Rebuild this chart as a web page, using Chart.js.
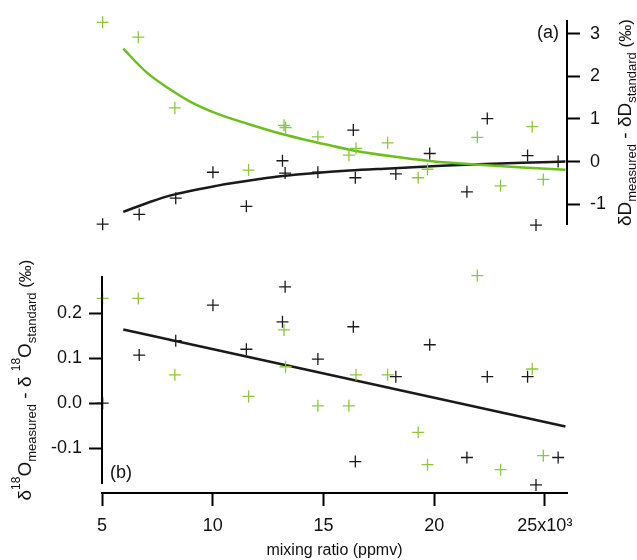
<!DOCTYPE html>
<html>
<head>
<meta charset="utf-8">
<script src="https://cdn.jsdelivr.net/npm/chart.js@4"></script>
<style>
  body { margin: 0; background: #fff; }
  #wrap { position: relative; width: 637px; height: 560px; }
  canvas { position: absolute; left: 0; }
</style>
</head>
<body>
<div id="wrap">
  <canvas id="topChart" width="637" height="245" style="top:0"></canvas>
  <canvas id="bottomChart" width="637" height="310" style="top:250px"></canvas>
</div>
<script>
// mixing ratio (x10^3 ppmv) of each measurement
const blackX = [5.03, 6.68, 8.33, 10.01, 11.52, 13.15, 13.27, 14.75, 16.35, 16.44, 18.27, 19.8, 21.48, 22.4, 24.22, 24.6, 25.6];
const blackDD = [-1.47, -1.24, -0.86, -0.25, -1.05, 0.02, -0.27, -0.25, 0.74, -0.38, -0.29, 0.19, -0.71, 1.01, 0.14, -1.49, 0.0];
const blackO18 = [0.0, 0.107, 0.139, 0.218, 0.12, 0.181, 0.259, 0.098, 0.17, -0.13, 0.059, 0.13, -0.121, 0.059, 0.059, -0.182, -0.121];

const greenX = [5.03, 6.64, 8.29, 11.62, 13.22, 13.29, 14.75, 16.15, 16.47, 17.9, 19.28, 19.7, 21.95, 23.0, 24.43, 24.93];
const greenDD = [3.27, 2.92, 1.26, -0.2, 0.85, 0.8, 0.58, 0.15, 0.31, 0.44, -0.38, -0.18, 0.57, -0.57, 0.82, -0.42];
const greenO18 = [0.233, 0.233, 0.063, 0.015, 0.163, 0.081, -0.006, -0.006, 0.063, 0.063, -0.065, -0.137, 0.284, -0.148, 0.076, -0.117];

// fitted curves
const greenFitX = [5.96, 7.0, 8.0, 9.0, 10.16, 12.12, 13.17, 14.7, 16.17, 18.0, 19.9, 21.87, 24.0, 25.93];
const greenFitDD = [2.65, 2.1, 1.72, 1.4, 1.13, 0.8, 0.64, 0.45, 0.28, 0.13, 0.01, -0.07, -0.14, -0.19];
const blackFitX = [5.96, 7.16, 8.06, 10.16, 12.12, 13.17, 16.17, 18.0, 19.9, 22.0, 24.0, 25.93];
const blackFitDD = [-1.18, -0.95, -0.8, -0.57, -0.41, -0.34, -0.21, -0.16, -0.11, -0.06, -0.03, 0.0];
const o18FitX = [5.96, 25.93];
const o18FitY = [0.164, -0.052];

const xTicks = [5, 10, 15, 20, 25];
const xTickLabels = ['5', '10', '15', '20', '25x10\u00b3'];
const ddTicks = [-1, 0, 1, 2, 3];
const o18Ticks = [-0.1, 0.0, 0.1, 0.2];
const o18TickLabels = ['-0.1', '0.0', '0.1', '0.2'];

const FONT = '"Liberation Sans", Arial, sans-serif';
const greenPt = '#8cc63f';
const greenLine = '#6cbf1e';
const blackPt = '#1a1a1a';

const pts = (xs, ys) => xs.map((x, i) => ({ x: x, y: ys[i] }));

function crosses(xs, ys, color) {
    return { data: pts(xs, ys), pointStyle: 'cross', pointRadius: 6, pointHoverRadius: 6,
        borderColor: color, pointBorderWidth: 1.3, showLine: false, clip: false };
}
function curve(xs, ys, color) {
    return { data: pts(xs, ys), showLine: true, pointRadius: 0, borderColor: color,
        borderWidth: 2.5, cubicInterpolationMode: 'monotone', clip: false };
}

// draws rotated text with sub/superscripts
function richText(ctx, parts, cx, cy) {
    ctx.save();
    ctx.translate(cx, cy);
    ctx.rotate(-Math.PI / 2);
    let w = 0;
    parts.forEach(p => { ctx.font = p[1] + 'px ' + FONT; w += ctx.measureText(p[0]).width; });
    let x = -w / 2;
    ctx.fillStyle = '#111';
    ctx.textBaseline = 'middle';
    parts.forEach(p => {
        ctx.font = p[1] + 'px ' + FONT;
        ctx.fillText(p[0], x, p[2]);
        x += ctx.measureText(p[0]).width;
    });
    ctx.restore();
}

const topDecor = {
    id: 'topDecor',
    afterDraw(chart) {
        const ctx = chart.ctx, a = chart.chartArea;
        richText(ctx, [['\u03b4D', 19, 0], ['measured', 13, 6], [' - \u03b4D', 19, 0], ['standard', 13, 6], [' (\u2030)', 17, 0]],
            626, (a.top + a.bottom) / 2);
        ctx.save();
        ctx.font = '18px ' + FONT;
        ctx.fillStyle = '#111';
        ctx.textAlign = 'right';
        ctx.textBaseline = 'middle';
        ctx.fillText('(a)', a.right - 8, a.top + 12);
        ctx.restore();
    }
};

const bottomDecor = {
    id: 'bottomDecor',
    afterDraw(chart) {
        const ctx = chart.ctx, a = chart.chartArea, y = chart.scales.y;
        ctx.save();
        ctx.strokeStyle = '#000';
        ctx.lineWidth = 2;
        ctx.beginPath();
        ctx.moveTo(a.left, a.top);
        ctx.lineTo(a.left, y.getPixelForValue(-0.18));
        ctx.stroke();
        ctx.font = '18px ' + FONT;
        ctx.fillStyle = '#111';
        ctx.textBaseline = 'middle';
        ctx.fillText('(b)', a.left + 8, y.getPixelForValue(-0.155));
        ctx.restore();
        richText(ctx, [['\u03b4', 19, 0], ['18', 12, -9], ['O', 19, 0], ['measured', 13, 6], [' - \u03b4 ', 19, 0], ['18', 12, -9],
            ['O', 19, 0], ['standard', 13, 6], [' (\u2030)', 17, 0]], 26, (a.top + y.getPixelForValue(-0.18)) / 2);
    }
};

const axisStyle = {
    border: { display: true, color: '#000', width: 2 },
    grid: { drawOnChartArea: false, drawTicks: true, tickLength: 13, tickWidth: 2, tickColor: '#000' },
};

new Chart(document.querySelector('#topChart'), {
    type: 'scatter',
    data: { datasets: [
        crosses(greenX, greenDD, greenPt),
        crosses(blackX, blackDD, blackPt),
        curve(greenFitX, greenFitDD, greenLine),
        curve(blackFitX, blackFitDD, blackPt),
    ] },
    options: {
        responsive: false, animation: false,
        layout: { padding: { left: 102, right: 0, top: 21, bottom: 16 } },
        plugins: { legend: { display: false }, tooltip: { enabled: false } },
        scales: {
            x: { type: 'linear', min: 5, max: 26, display: false },
            y: Object.assign({}, axisStyle, {
                position: 'right', min: -1.47, max: 3.3,
                afterBuildTicks: s => { s.ticks = ddTicks.map(v => ({ value: v })); },
                afterFit: s => { s.width = 70; },
                ticks: { color: '#111', padding: 10, font: { family: FONT, size: 18 } },
            }),
        },
    },
    plugins: [topDecor],
});

new Chart(document.querySelector('#bottomChart'), {
    type: 'scatter',
    data: { datasets: [
        crosses(greenX, greenO18, greenPt),
        crosses(blackX, blackO18, blackPt),
        curve(o18FitX, o18FitY, blackPt),
    ] },
    options: {
        responsive: false, animation: false,
        layout: { padding: { left: 0, right: 70, top: 26, bottom: 0 } },
        plugins: { legend: { display: false }, tooltip: { enabled: false } },
        scales: {
            x: Object.assign({}, axisStyle, {
                type: 'linear', min: 5, max: 26,
                afterBuildTicks: s => { s.ticks = xTicks.map(v => ({ value: v })); },
                afterFit: s => { s.height = 67; },
                ticks: { color: '#111', padding: 9, maxRotation: 0,
                    font: { family: FONT, size: 18 },
                    callback: v => xTickLabels[xTicks.indexOf(v)] },
                title: { display: true, text: 'mixing ratio (ppmv)', color: '#111',
                    padding: { top: 0, bottom: 0 }, font: { family: FONT, size: 16 } },
            }),
            y: Object.assign({}, axisStyle, {
                border: { display: false },
                min: -0.2, max: 0.283,
                afterBuildTicks: s => { s.ticks = o18Ticks.map(v => ({ value: v })); },
                afterFit: s => { s.width = 102; },
                ticks: { color: '#111', padding: 7, font: { family: FONT, size: 18 },
                    callback: v => o18TickLabels[o18Ticks.indexOf(v)] },
            }),
        },
    },
    plugins: [bottomDecor],
});
</script>
</body>
</html>
